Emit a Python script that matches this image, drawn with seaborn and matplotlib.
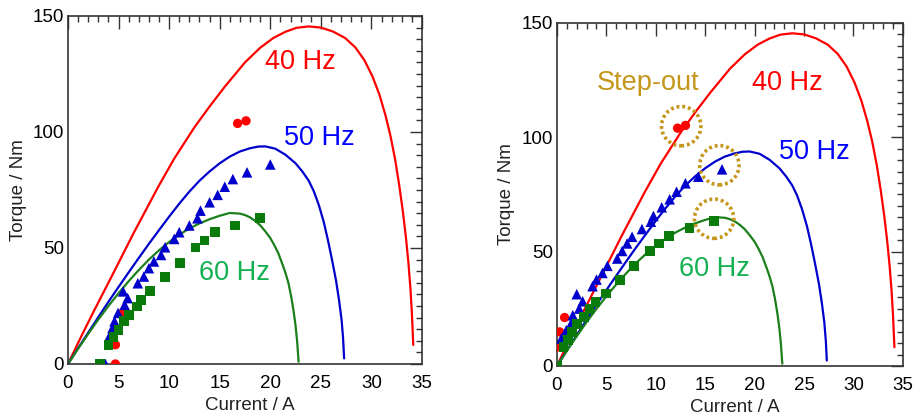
import numpy as np
import pandas as pd
import matplotlib
matplotlib.use("Agg")
import matplotlib.pyplot as plt
from matplotlib.ticker import MultipleLocator
import seaborn as sns

# ---------------- data ----------------
# calculated curves (same in both panels): current [A], torque [Nm]
red_I = [0, 1.3, 2.5, 4.3, 6.5, 8.9, 10.5, 12.5, 14.0, 15.5, 17.5, 19.0, 20.3, 21.5, 22.6,
         23.8, 25.0, 26.2, 27.4, 28.4, 29.3, 30.1, 30.8, 31.4, 31.9, 32.35, 32.75, 33.1,
         33.4, 33.65, 33.85, 34.0, 34.1, 34.14]
red_T = [0, 11.8, 22.3, 37.6, 56.5, 76.2, 88.5, 102.0, 111.0, 119.5, 130.0, 136.3, 140.5,
         143.2, 144.9, 145.5, 145.0, 143.3, 140.5, 136.5, 131.0, 124.0, 116.0, 107.0, 98.0,
         88.0, 77.0, 66.0, 55.0, 44.0, 33.0, 22.0, 12.0, 8.2]

blue_I = [0, 1, 2, 3, 4, 5, 6, 7, 8, 9, 10, 11, 12, 13, 14, 15, 16, 17, 18, 18.8, 19.5,
          20.5, 21.5, 22.5, 23.2, 23.8, 24.3, 24.8, 25.3, 25.7, 26.1, 26.5, 26.8, 27.05,
          27.2, 27.3]
blue_T = [0, 6.8, 13.5, 20.2, 26.8, 33.2, 39.5, 45.7, 51.8, 57.7, 63.5, 69.1, 74.3, 79.0,
          83.0, 86.5, 89.4, 91.6, 93.0, 93.7, 93.8, 92.8, 90.2, 86.5, 82.8, 79.0, 74.5,
          68.5, 61.0, 53.4, 45.0, 36.0, 27.5, 19.0, 11.0, 2.4]

green_I = [0, 1, 2, 3, 4, 5, 6, 7, 8, 9, 10, 11, 12, 13, 14, 15, 16, 17, 17.5, 18, 18.5,
           19, 19.5, 20, 20.4, 20.8, 21.2, 21.5, 21.8, 22.05, 22.3, 22.5, 22.65, 22.8]
green_T = [0, 6.6, 13.0, 19.2, 25.0, 30.5, 35.7, 40.5, 45.0, 49.0, 52.6, 55.7, 58.4, 60.6,
           62.4, 63.9, 65.1, 64.8, 64.2, 63.2, 61.7, 59.8, 57.2, 54.3, 51.2, 47.7, 43.0,
           39.3, 34.8, 29.5, 23.0, 16.5, 10.0, 1.0]

# measured points, left panel
L_red_I = [4.69, 4.69, 5.4, 16.77, 17.6]
L_red_T = [0.0, 8.3, 22.0, 103.7, 104.8]
L_blue_I = [3.7, 4.1, 4.4, 4.6, 4.95, 5.6, 5.9, 5.45, 6.9, 7.5, 8.0, 8.5, 9.2, 9.6, 10.5,
            11.0, 12.0, 12.8, 13.1, 14.0, 14.8, 15.5, 16.3, 17.7, 20.0]
L_blue_T = [0.0, 12.0, 15.5, 18.4, 22.0, 25.5, 28.4, 31.3, 34.8, 37.7, 41.3, 44.2, 47.0, 50.3,
            53.9, 56.8, 59.7, 62.8, 66.1, 69.7, 72.9, 76.4, 79.7, 82.6, 86.0]
L_green_I = [3.2, 4.0, 4.5, 5.0, 5.5, 6.0, 6.8, 7.2, 8.1, 9.6, 11.1, 12.6, 13.5, 14.5, 16.5, 19.0]
L_green_T = [0.0, 8.3, 11.5, 14.8, 18.6, 21.2, 24.8, 27.7, 31.5, 37.4, 43.7, 50.2, 53.2, 56.8,
             59.7, 62.8]

# measured points, right panel (offset-corrected current)
R_red_I = [0.0, 0.27, 0.77, 12.2, 13.0]
R_red_T = [8.3, 14.9, 21.2, 104.0, 105.2]
R_blue_I = [0.44, 0.94, 1.45, 1.6, 2.25, 2.6, 2.0, 3.6, 4.0, 4.6, 5.1, 6.1, 6.6, 7.1, 7.6,
            8.6, 9.5, 9.76, 10.6, 11.4, 12.1, 13.0, 14.3, 16.7]
R_blue_T = [12.0, 15.6, 18.8, 22.2, 25.1, 28.3, 31.4, 34.9, 37.8, 40.7, 43.8, 47.0, 50.3, 53.6,
            56.5, 59.9, 63.1, 65.6, 69.4, 72.9, 76.2, 79.9, 82.8, 86.0]
R_green_I = [0.0, 0.67, 1.08, 1.5, 2.0, 2.7, 3.3, 3.9, 4.95, 6.4, 7.8, 9.4, 10.3, 11.3, 13.4, 15.9]
R_green_T = [0.0, 8.3, 11.5, 14.9, 18.5, 21.5, 24.8, 28.0, 31.7, 37.5, 43.8, 50.4, 53.6, 57.0,
             60.2, 63.4]

# step-out markers (right panel)
step_I = [12.57, 16.43, 15.9]
step_T = [104.9, 87.8, 64.4]

freq_labels = ["40 Hz", "50 Hz", "60 Hz"]
x_ticks = [0, 5, 10, 15, 20, 25, 30, 35]
y_ticks = [0, 50, 100, 150]

# ---------------- styling ----------------
sns.set_style("white")
plt.rcParams["font.family"] = ["Liberation Sans", "DejaVu Sans"]

RED = "#FF0000"
BLUE_L = "#0000CC"
BLUE_T = "#0000FF"
GREEN_L = "#1B7F1B"
GREEN_M = "#0A7A0A"
GREEN_T = "#12B050"
GOLD = "#C4961A"
FRAME = "#333333"

fig = plt.figure(figsize=(9.15, 4.15), dpi=100)
axL = fig.add_axes([0.0743, 0.1229, 0.3869, 0.8386])
axR = fig.add_axes([0.6087, 0.1181, 0.3781, 0.8265])


def draw(ax, pts, texts, label_xy, xlab_xy):
    curves = [(red_I, red_T, RED), (blue_I, blue_T, BLUE_L), (green_I, green_T, GREEN_L)]
    for xi, yi, c in curves:
        df = pd.DataFrame({"I": xi, "T": yi})
        sns.lineplot(data=df, x="I", y="T", sort=False, color=c, lw=1.6, ax=ax)
    (ri, rt), (bi, bt), (gi, gt) = pts
    sns.scatterplot(x=ri, y=rt, marker="o", s=45, color=RED, edgecolor="none", ax=ax, zorder=4)
    sns.scatterplot(x=bi, y=bt, marker="^", s=58, color=BLUE_L, edgecolor="none", ax=ax, zorder=4)
    sns.scatterplot(x=gi, y=gt, marker="s", s=50, color=GREEN_M, edgecolor="none", ax=ax, zorder=4)
    for (tx, ty), lab, c in zip(texts, freq_labels, [RED, BLUE_T, GREEN_T]):
        ax.text(tx, ty, lab, color=c, fontsize=19.5, ha="left", va="center")
    ax.set_xlim(0, 35)
    ax.set_ylim(0, 150)
    ax.set_xticks(x_ticks)
    ax.set_yticks(y_ticks)
    ax.xaxis.set_minor_locator(MultipleLocator(1))
    ax.yaxis.set_minor_locator(MultipleLocator(5))
    ax.tick_params(which="both", direction="in", top=True, right=True, colors=FRAME,
                   labelcolor="black", width=1.0)
    ax.tick_params(which="major", length=9, labelsize=13.5)
    ax.tick_params(axis="x", which="major", pad=8)
    ax.tick_params(axis="y", which="major", pad=3)
    ax.tick_params(which="minor", length=4.5)
    for sp in ax.spines.values():
        sp.set_color(FRAME)
        sp.set_linewidth(1.2)
        sp.set_visible(True)
    ax.set_xlabel("Current / A", fontsize=13.5, color="#222222")
    ax.set_ylabel("Torque / Nm", fontsize=13.5, color="#222222")
    ax.xaxis.set_label_coords(*xlab_xy)
    ax.yaxis.set_label_coords(*label_xy)


draw(axL,
     [(L_red_I, L_red_T), (L_blue_I, L_blue_T), (L_green_I, L_green_T)],
     [(19.5, 130.2), (21.4, 97.2), (13.0, 39.2)],
     (-0.116, 0.5), (0.514, -0.095))
draw(axR,
     [(R_red_I, R_red_T), (R_blue_I, R_blue_T), (R_green_I, R_green_T)],
     [(19.7, 123.7), (22.5, 93.8), (12.3, 42.6)],
     (-0.121, 0.5), (0.514, -0.095))

axR.text(4.04, 123.7, "Step-out", color=GOLD, fontsize=19.5, ha="left", va="center")
axR.scatter(step_I, step_T, s=800, facecolors="none", edgecolors=GOLD,
            linewidths=2.6, linestyles=(0, (0.8, 0.8)), zorder=5)

fig.savefig("out.png", dpi=100)
